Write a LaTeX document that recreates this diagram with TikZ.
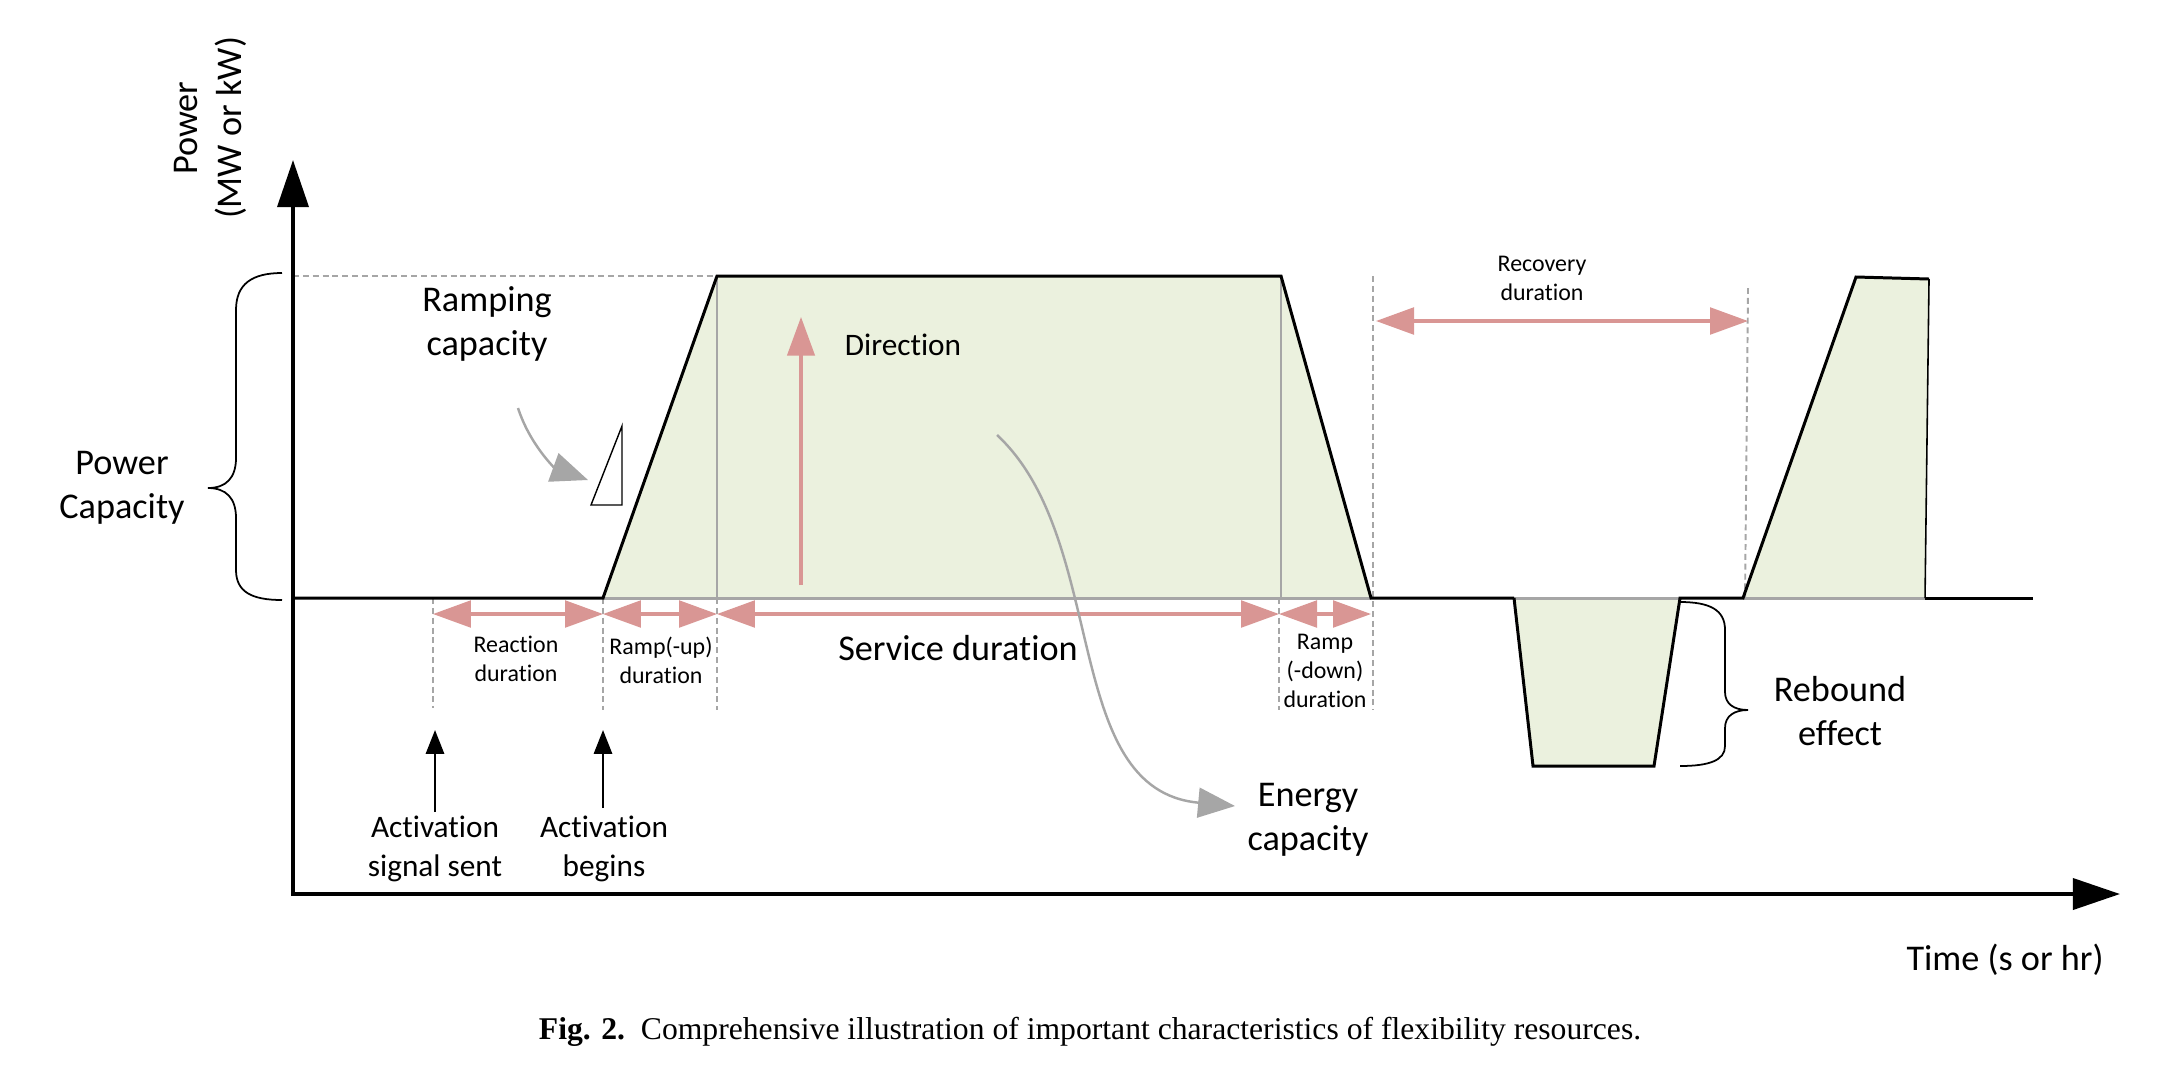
\documentclass[tikz,border=0pt]{standalone}
\usepackage{fontspec}
\setmainfont{Carlito}[Ligatures=NoCommon]
\newfontfamily\capfont{Liberation Serif}
\usetikzlibrary{arrows.meta,positioning}
\definecolor{areagreen}{HTML}{EBF1DE}
\definecolor{spanred}{HTML}{D99694}
\definecolor{guide}{HTML}{A6A6A6}

\begin{document}
\begin{tikzpicture}[x=0.01cm, y=-0.01cm,
    lbl/.style={align=center, inner sep=0pt, font=\fontsize{10.3}{12.5}\selectfont},
    mid/.style={align=center, inner sep=0pt, font=\fontsize{8.9}{11.1}\selectfont},
    tiny/.style={align=center, inner sep=0pt, font=\fontsize{6.8}{8.2}\selectfont},
    axisline/.style={line width=1.15pt, {Triangle[length=13.4pt, width=8.8pt]}-{Triangle[length=13.4pt, width=8.8pt]}},
    prof/.style={line width=0.85pt, line join=miter},
    guideline/.style={guide, line width=0.55pt, dash pattern=on 1.7pt off 1.1pt},
    span/.style={spanred, line width=0.9pt, {Triangle[length=10.8pt, width=7.6pt]}-{Triangle[length=10.8pt, width=7.6pt]}},
    dirarrow/.style={spanred, line width=0.9pt, -{Triangle[length=11pt, width=7.8pt]}},
    hint/.style={guide, line width=0.7pt, -{Triangle[length=10.5pt, width=8.5pt]}},
    sig/.style={line width=0.6pt, -{Triangle[length=6.8pt, width=5.2pt]}},
    curly/.style={line width=0.5pt}
]
\useasboundingbox (0,0) rectangle (2180,1072);

\coordinate (o) at (293,894);
\coordinate (ytip) at (293,160);
\coordinate (xtip) at (2120,894);
\coordinate (b0) at (293,598);
\coordinate (b1) at (603,598);
\coordinate (t1) at (717,276);
\coordinate (t2) at (1281,276);
\coordinate (b2) at (1371,598);
\coordinate (r1) at (1514,598);
\coordinate (r2) at (1533,766);
\coordinate (r3) at (1654,766);
\coordinate (r4) at (1680,598);
\coordinate (b3) at (1743,598);
\coordinate (t3) at (1856,277);
\coordinate (t4) at (1929,279);
\coordinate (b4) at (1925,598);
\coordinate (bend) at (2033,598);

\fill[areagreen] (b1) -- (t1) -- (t2) -- (b2) -- cycle;
\fill[areagreen] (r1) -- (r2) -- (r3) -- (r4) -- cycle;
\fill[areagreen] (b3) -- (t3) -- (t4) -- (b4) -- cycle;

\draw[guide, line width=0.85pt] (b1) -- (b2) (r1) -- (r4) (b3) -- (b4);
\draw[guide, line width=0.55pt] (t1) -- (717,598) (t2) -- (1281,598);

\draw[guideline] (293,276) -- (t1);
\draw[guideline] (433,598) -- (433,708);
\draw[guideline] (b1) -- (603,710);
\draw[guideline] (717,598) -- (717,710);
\draw[guideline] (1279,598) -- (1279,710);
\draw[guideline] (1373,276) -- (1373,710);
\draw[guideline] (1748,288) -- (1745,598);

\draw[prof] (b0) -- (b1) -- (t1) -- (t2) -- (b2) -- (r1);
\draw[prof] (r1) -- (r2) -- (r3) -- (r4) -- (b3) -- (t3) -- (t4);
\draw[line width=0.45pt] (t4) -- (b4);
\draw[prof] (b4) -- (bend);

\draw[axisline] (ytip) -- (o) -- (xtip);

\draw[span] (433,614) -- (603,614);
\draw[span] (603,614) -- (717,614);
\draw[span] (717,614) -- (1279,614);
\draw[span] (1279,614) -- (1371,614);
\draw[span] (1376,321) -- (1748,321);
\draw[dirarrow] (801,585) -- (801,317);

\draw[sig] (435,812) -- (435,730);
\draw[sig] (603,808) -- (603,730);

\draw[line width=0.4pt] (591,505) -- (622,505) -- (622,426) -- cycle;
\draw[hint] (518,408) .. controls (530,445) and (555,468) .. (588,480);
\draw[hint] (997,435) .. controls (1110,540) and (1060,790) .. (1235,806);

\draw[curly] (282,273) .. controls (252,273) and (236,284) .. (236,310) -- (236,458)
  .. controls (236,478) and (226,488) .. (208,488)
  .. controls (226,488) and (236,498) .. (236,518) -- (236,570)
  .. controls (236,592) and (252,600) .. (282,600);
\draw[curly] (1680,602) .. controls (1710,602) and (1725,610) .. (1725,630) -- (1725,692)
  .. controls (1725,704) and (1734,710) .. (1748,710)
  .. controls (1734,710) and (1725,716) .. (1725,728) -- (1725,746)
  .. controls (1725,760) and (1710,766) .. (1680,766);

\node[lbl, rotate=90] (ylab) at (210,128) {Power\\(MW or kW)};
\node[lbl] (pcap) at (122,488) {Power\\Capacity};
\node[lbl] (ramp) at (487,324) {Ramping\\capacity};
\node[mid] (dir) at (903,345) {Direction};
\node[tiny] (recov) at (1542,278) {Recovery\\duration};
\node[tiny] (react) at (516,659) {Reaction\\duration};
\node[tiny] (rup) at (661,660) {Ramp(-up)\\duration};
\node[lbl] (serv) at (958,648) {Service duration};
\node[tiny] (rdown) at (1325,671) {Ramp\\(-down)\\duration};
\node[lbl] (energy) at (1308,820) {Energy\\capacity};
\node[lbl] (rebound) at (1840,711) {Rebound\\effect};
\node[mid] (sent) at (435,849) {Activation\\signal sent};
\node[mid] (begin) at (604,849) {Activation\\begins};
\node[lbl] (time) at (2005,960) {Time (s or hr)};
\node[inner sep=0pt, font=\capfont\fontsize{9}{11}\selectfont] (caption) at (1090,1032)
  {\textbf{Fig. 2.}\ \ Comprehensive illustration of important characteristics of flexibility resources.};
\end{tikzpicture}
\end{document}
